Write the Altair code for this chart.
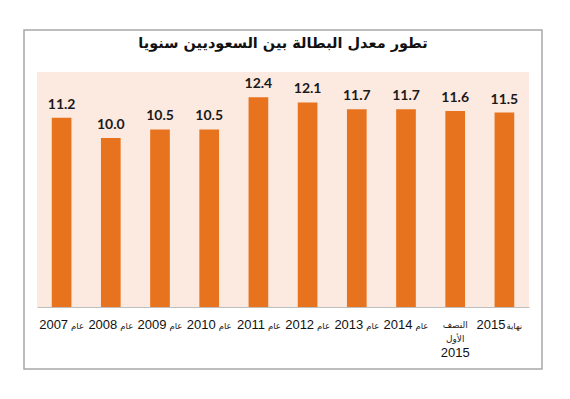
import altair as alt
import pandas as pd

title_text = "تطور معدل البطالة بين السعوديين سنويا"
labels = ["عام 2007", "عام 2008", "عام 2009", "عام 2010", "عام 2011",
          "عام 2012", "عام 2013", "عام 2014", "النصف الأول 2015", "نهاية 2015"]
numbers = ["2007", "2008", "2009", "2010", "2011", "2012", "2013", "2014", "2015", "2015"]
words = ["عام", "عام", "عام", "عام", "عام", "عام", "عام", "عام", "النصف الأول", "نهاية"]
values = [11.2, 10.0, 10.5, 10.5, 12.4, 12.1, 11.7, 11.7, 11.6, 11.5]

kinds = ["std"] * 8 + ["half", "end"]
df = pd.DataFrame({"label": labels, "value": values, "num": numbers,
                   "word": words, "kind": kinds})

W, H = 492, 235
ORANGE = "#E8731F"
PEACH = "#FCE9E0"
AR_FONT = "DejaVu Sans"
NUM_FONT = "Liberation Sans"

xdef = alt.X("label:N", sort=labels,
             scale=alt.Scale(domain=labels, paddingInner=0.6, paddingOuter=0.3),
             axis=alt.Axis(labels=False, ticks=False, title=None,
                           domainColor="#bfbfbf", domainWidth=1))
ydef = alt.Y("value:Q", scale=alt.Scale(domain=[0, 13.9], nice=False, zero=True),
             axis=None)

base = alt.Chart(df)

border = alt.Chart(alt.Data(values=[{}])).mark_rect(
    fill="white", fillOpacity=0, stroke="#a8a8a8", strokeWidth=1.5
).encode(x=alt.value(-13), x2=alt.value(505), y=alt.value(-42), y2=alt.value(297))

title = alt.Chart(alt.Data(values=[{"t": title_text}])).mark_text(
    font=AR_FONT, fontWeight="bold", fontSize=14.5, color="#111111",
    align="center", baseline="alphabetic"
).encode(x=alt.value(W / 2), y=alt.value(-24), text="t:N")

bars = base.mark_bar(color=ORANGE).encode(x=xdef, y=ydef)

vlabels = base.mark_text(
    font="Lato", fontWeight="bold", fontSize=14, color="#1a1a1a",
    baseline="alphabetic", dy=-9
).encode(x=xdef, y=ydef, text=alt.Text("value:Q", format=".1f"))

LY = 253

std_num = base.transform_filter(alt.datum.kind == "std").mark_text(
    font=NUM_FONT, fontSize=13, color="#111111", align="right",
    baseline="middle", dx=6.5
).encode(x=xdef, y=alt.value(LY), text="num:N")

std_word = base.transform_filter(alt.datum.kind == "std").mark_text(
    font=AR_FONT, fontSize=8.5, color="#222222", align="left",
    baseline="middle", dx=9.5
).encode(x=xdef, y=alt.value(LY + 1), text="word:N")

end_num = base.transform_filter(alt.datum.kind == "end").mark_text(
    font=NUM_FONT, fontSize=13, color="#111111", align="right",
    baseline="middle", dx=1
).encode(x=xdef, y=alt.value(LY), text="num:N")

end_word = base.transform_filter(alt.datum.kind == "end").mark_text(
    font=AR_FONT, fontSize=8.5, color="#222222", align="left",
    baseline="middle", dx=2
).encode(x=xdef, y=alt.value(LY + 1), text="word:N")

half_word = base.transform_filter(alt.datum.kind == "half").mark_text(
    font=AR_FONT, fontSize=9, color="#222222", align="center",
    baseline="middle", dx=0, lineBreak=" ", lineHeight=14
).encode(x=xdef, y=alt.value(LY), text="word:N")

half_num = base.transform_filter(alt.datum.kind == "half").mark_text(
    font=NUM_FONT, fontSize=13, color="#111111", align="center",
    baseline="middle", dx=0
).encode(x=xdef, y=alt.value(LY + 28), text="num:N")

chart = alt.layer(
    border, title, bars, vlabels, std_num, std_word, end_num, end_word,
    half_word, half_num
).properties(
    width=W, height=H,
    autosize=alt.AutoSizeParams(type="none"),
    padding={"left": 29, "top": 64, "right": 33, "bottom": 75},
    background="white"
).configure_view(fill=PEACH, stroke=None)

chart.save("out.html", embed_options={"renderer": "svg", "actions": False})
